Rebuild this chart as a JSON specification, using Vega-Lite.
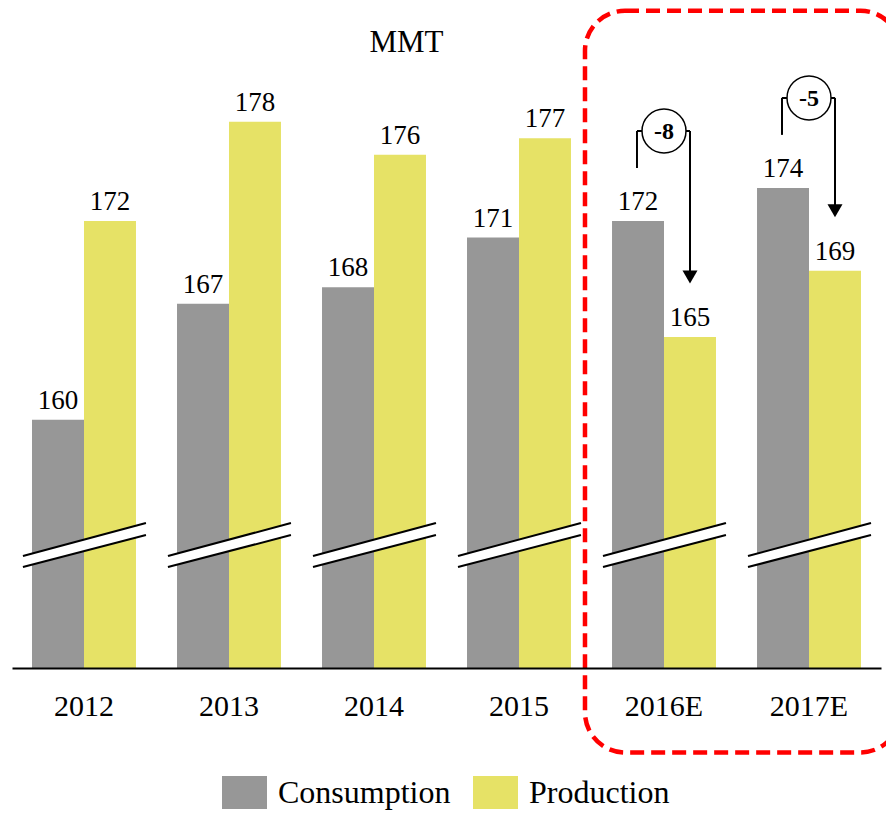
{
  "$schema": "https://vega.github.io/schema/vega-lite/v6.json",
  "width": 869,
  "height": 596,
  "autosize": {"type": "none"},
  "padding": {"left": 12, "top": 72, "right": 5, "bottom": 145},
  "background": "white",
  "config": {
    "view": {"stroke": null},
    "font": "Liberation Serif",
    "text": {"font": "Liberation Serif"}
  },
  "title": {
    "text": "MMT",
    "font": "Liberation Serif",
    "fontSize": 31,
    "fontWeight": "normal",
    "color": "black",
    "anchor": "middle",
    "dx": -40,
    "offset": -51
  },
  "datasets": {
    "main": [
      {"year": "2012", "series": "Consumption", "value": 160},
      {"year": "2012", "series": "Production", "value": 172},
      {"year": "2013", "series": "Consumption", "value": 167},
      {"year": "2013", "series": "Production", "value": 178},
      {"year": "2014", "series": "Consumption", "value": 168},
      {"year": "2014", "series": "Production", "value": 176},
      {"year": "2015", "series": "Consumption", "value": 171},
      {"year": "2015", "series": "Production", "value": 177},
      {"year": "2016E", "series": "Consumption", "value": 172},
      {"year": "2016E", "series": "Production", "value": 165},
      {"year": "2017E", "series": "Consumption", "value": 174},
      {"year": "2017E", "series": "Production", "value": 169}
    ],
    "changes": [
      {"year": "2016E", "from": 172, "to": 165, "label": "-8"},
      {"year": "2017E", "from": 174, "to": 169, "label": "-5"}
    ],
    "box": [{"start": "2016E", "end": "2017E"}]
  },
  "data": {"name": "main"},
  "encoding": {
    "x": {
      "field": "year",
      "type": "nominal",
      "sort": null,
      "scale": {"paddingInner": 0.283, "paddingOuter": 0.138},
      "axis": {
        "title": null,
        "labelAngle": 0,
        "labelFont": "Liberation Serif",
        "labelFontSize": 30,
        "labelColor": "black",
        "labelPadding": 23,
        "ticks": false,
        "domain": true,
        "domainColor": "black",
        "domainWidth": 2,
        "grid": false,
        "zindex": 1
      }
    }
  },
  "layer": [
    {
      "mark": {"type": "bar", "opacity": 1},
      "encoding": {
        "xOffset": {"field": "series", "type": "nominal", "scale": {"paddingInner": 0, "paddingOuter": 0}},
        "y": {
          "field": "value",
          "type": "quantitative",
          "scale": {"domain": [145, 181], "zero": false, "nice": false},
          "axis": null
        },
        "y2": {"datum": 145},
        "color": {
          "field": "series",
          "type": "nominal",
          "scale": {"domain": ["Consumption", "Production"], "range": ["#979797", "#e6e266"]},
          "legend": {
            "orient": "none",
            "legendX": 210,
            "legendY": 698,
            "direction": "horizontal",
            "title": null,
            "symbolType": "M-1,-0.733L1,-0.733L1,0.733L-1,0.733Z",
            "symbolSize": 2025,
            "symbolStrokeWidth": 0,
            "symbolOpacity": 1,
            "labelFont": "Liberation Serif",
            "labelFontSize": 32,
            "labelColor": "black",
            "labelOffset": 11,
            "labelLimit": 400,
            "columnPadding": 22,
            "padding": 0
          }
        }
      }
    },
    {
      "mark": {"type": "text", "baseline": "alphabetic", "align": "center", "dy": -11, "fontSize": 27, "color": "black"},
      "encoding": {
        "xOffset": {"field": "series", "type": "nominal"},
        "y": {"field": "value", "type": "quantitative"},
        "text": {"field": "value", "type": "quantitative"}
      }
    },
    {
      "transform": [{"filter": "datum.series === 'Consumption'"}],
      "mark": {"type": "rule", "color": "white", "strokeWidth": 11, "strokeCap": "butt"},
      "encoding": {
        "x": {"field": "year", "type": "nominal", "bandPosition": -0.087},
        "x2": {"field": "year", "bandPosition": 1.096},
        "y": {"datum": 151.43, "type": "quantitative"},
        "y2": {"datum": 153.4}
      }
    },
    {
      "transform": [{"filter": "datum.series === 'Consumption'"}],
      "mark": {"type": "rule", "color": "black", "strokeWidth": 2, "strokeCap": "butt"},
      "encoding": {
        "x": {"field": "year", "type": "nominal", "bandPosition": -0.087},
        "x2": {"field": "year", "bandPosition": 1.096},
        "y": {"datum": 151.765, "type": "quantitative"},
        "y2": {"datum": 153.758}
      }
    },
    {
      "transform": [{"filter": "datum.series === 'Consumption'"}],
      "mark": {"type": "rule", "color": "black", "strokeWidth": 2, "strokeCap": "butt"},
      "encoding": {
        "x": {"field": "year", "type": "nominal", "bandPosition": -0.087},
        "x2": {"field": "year", "bandPosition": 1.096},
        "y": {"datum": 151.1, "type": "quantitative"},
        "y2": {"datum": 153.03}
      }
    },
    {
      "data": {"name": "changes"},
      "mark": {"type": "rule", "color": "black", "strokeWidth": 2, "yOffset": -53, "y2Offset": -90},
      "encoding": {
        "x": {"field": "year", "type": "nominal", "bandPosition": 0.24},
        "y": {"field": "from", "type": "quantitative"},
        "y2": {"field": "from"}
      }
    },
    {
      "data": {"name": "changes"},
      "mark": {"type": "rule", "color": "black", "strokeWidth": 2, "yOffset": -90},
      "encoding": {
        "x": {"field": "year", "type": "nominal", "bandPosition": 0.24},
        "x2": {"field": "year", "bandPosition": 0.75},
        "y": {"field": "from", "type": "quantitative"}
      }
    },
    {
      "data": {"name": "changes"},
      "mark": {"type": "rule", "color": "black", "strokeWidth": 2, "yOffset": -90, "y2Offset": -60},
      "encoding": {
        "x": {"field": "year", "type": "nominal", "bandPosition": 0.75},
        "y": {"field": "from", "type": "quantitative"},
        "y2": {"field": "to"}
      }
    },
    {
      "data": {"name": "changes"},
      "mark": {"type": "point", "shape": "triangle-down", "size": 225, "filled": true, "color": "black", "opacity": 1, "yOffset": -60},
      "encoding": {
        "x": {"field": "year", "type": "nominal", "bandPosition": 0.75},
        "y": {"field": "to", "type": "quantitative"}
      }
    },
    {
      "data": {"name": "changes"},
      "mark": {"type": "point", "shape": "circle", "size": 1936, "filled": true, "fill": "white", "stroke": "black", "strokeWidth": 1.5, "opacity": 1, "yOffset": -90},
      "encoding": {
        "x": {"field": "year", "type": "nominal", "bandPosition": 0.5},
        "y": {"field": "from", "type": "quantitative"}
      }
    },
    {
      "data": {"name": "changes"},
      "mark": {"type": "text", "fontWeight": "bold", "fontSize": 24, "baseline": "middle", "align": "center", "color": "black", "yOffset": -90, "dy": 1},
      "encoding": {
        "x": {"field": "year", "type": "nominal", "bandPosition": 0.5},
        "y": {"field": "from", "type": "quantitative"},
        "text": {"field": "label", "type": "nominal"}
      }
    },
    {
      "data": {"name": "box"},
      "mark": {"type": "rect", "filled": false, "fill": null, "stroke": "#ff0000", "strokeWidth": 4.5, "strokeDash": [14, 7], "cornerRadius": 40, "clip": false},
      "encoding": {
        "x": {"field": "start", "type": "nominal", "bandPosition": -0.26},
        "x2": {"field": "end", "bandPosition": 1.38},
        "y": {"datum": 184.7, "type": "quantitative"},
        "y2": {"datum": 139.9}
      }
    }
  ]
}
